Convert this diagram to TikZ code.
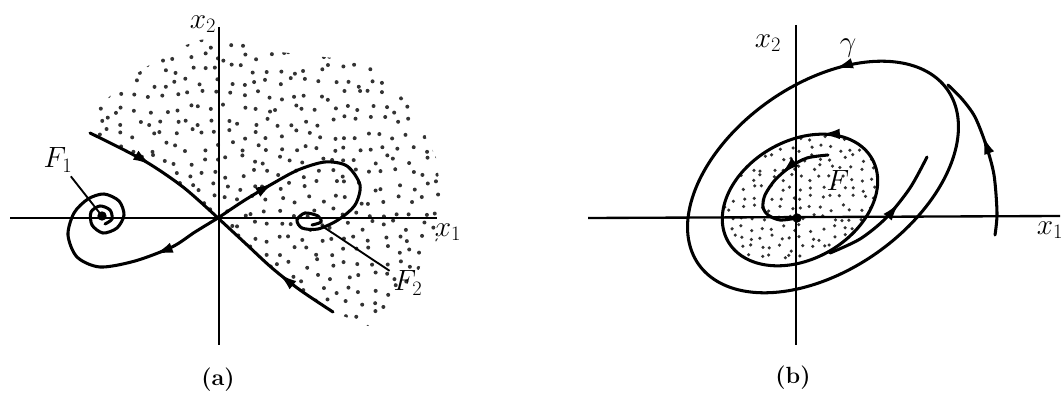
\RequirePackage{fix-cm}
\documentclass[tikz,border=0pt]{standalone}
\usepackage{amsmath,amssymb}
\usetikzlibrary{arrows.meta,decorations.markings}

\begin{document}
\begin{tikzpicture}[
    x=0.03cm, y=-0.03cm,
    axis/.style={line width=2pt, draw=black},
    traj/.style={line width=2.6pt, draw=black, line cap=round},
    pointer/.style={line width=1.6pt, draw=black},
    flow/.style={postaction={decorate, decoration={markings,
        mark=at position #1 with {\arrow{Latex[length=16pt,width=9pt]}}}}},
    speck/.style={fill=black!80},
    axlabel/.style={font=\fontsize{25}{28}\selectfont},
    ptlabel/.style={font=\fontsize{25}{28}\selectfont},
    caption/.style={font=\fontsize{20}{24}\selectfont\bfseries}
]
    \useasboundingbox (0,0) rectangle (1064,397);
    \pgfmathsetseed{17}

    % ---------- (a) ----------
    % stippled basin of F2, bounded by the stable separatrix
    \begin{scope}
        \clip plot[smooth] coordinates {(88,130) (143,160) (183,187) (218,218)}
            -- plot[smooth] coordinates {(218,218) (245,243) (272,268) (300,290) (333,312)}
            -- (368,326) -- (393,306) -- (420,268) -- (440,235) -- (442,200)
            -- (436,158) -- (412,105) -- (382,80) -- (365,57) -- (333,58)
            -- (280,52) -- (248,44) -- (230,35) -- (200,40) -- (172,50)
            -- (133,76) -- (110,96) -- (92,114) -- cycle;
        \foreach \gx in {85,98,...,445}{
            \foreach \gy in {30,43,...,330}{
                \pgfmathsetmacro\px{\gx+5*rand}
                \pgfmathsetmacro\py{\gy+5*rand}
                \fill[speck] (\px,\py) circle[radius=1.7pt];
            }
        }
    \end{scope}

    % axes
    \draw[axis] (10,218) -- (437,218);
    \draw[axis] (219,27) -- (219,345);
    \node[axlabel] (xa2) at (203,24) {$x_2$};
    \node[axlabel] (xa1) at (448,232) {$x_1$};

    % stable separatrix
    \draw[traj, flow=0.45] plot[smooth] coordinates {(90,133) (143,160) (183,187) (218,218)};
    \draw[traj, flow=0.45] plot[smooth] coordinates {(333,312) (300,290) (272,268) (245,243) (218,218)};

    % unstable branch to F2
    \draw[traj, flow=0.22] plot[smooth] coordinates {(218,218) (245,200) (272,184) (298,170)
        (325,162) (347,166) (360,185) (355,205) (338,220) (318,229) (302,228) (297,220)
        (305,213) (318,216) (321,222) (312,225)};

    % unstable branch to F1
    \draw[traj, flow=0.2] plot[smooth] coordinates {(218,218) (195,232) (172,247) (135,261)
        (100,267) (77,257) (68,235) (74,213) (88,199) (104,194) (119,201) (124,215)
        (117,228) (103,233) (92,225) (91,212) (100,206) (110,210) (112,219) (105,224)};

    % foci
    \coordinate (F1) at (102,216);
    \coordinate (F2) at (322,226);
    \fill (F1) circle[radius=4pt];
    \node[ptlabel] (labF1) at (58,160) {$F_1$};
    \node[ptlabel] (labF2) at (408,283) {$F_2$};
    \draw[pointer] (labF1) -- (F1);
    \draw[pointer] (F2) -- (labF2);

    \node[caption] (capa) at (218,380) {(a)};

    % ---------- (b) ----------
    % stippled region inside the inner cycle
    \begin{scope}
        \clip plot[domain=0:360, samples=100, variable=\t]
            ({800+71.9*cos(\t)-29.5*sin(\t)}, {200-41.5*cos(\t)-51.1*sin(\t)}) -- cycle;
        \foreach \gx in {712,722,...,890}{
            \foreach \gy in {128,138,...,275}{
                \pgfmathsetmacro\px{\gx+3.5*rand}
                \pgfmathsetmacro\py{\gy+3.5*rand}
                \fill[speck] (\px,\py) circle[radius=1.5pt];
            }
        }
    \end{scope}

    % axes
    \draw[axis] (588,218) -- (1060,216);
    \draw[axis] (796,25) -- (796,345);
    \node[axlabel] (xb2) at (768,43) {$x_2$};
    \node[axlabel] (xb1) at (1050,230) {$x_1$};

    % inner cycle
    \draw[traj, flow=0.5] plot[domain=-128:232, samples=150, variable=\t]
        ({800+71.9*cos(\t)-29.5*sin(\t)}, {200-41.5*cos(\t)-51.1*sin(\t)}) -- cycle;

    % outer cycle gamma
    \draw[traj, flow=0.5] plot[domain=-118:242, samples=180, variable=\t]
        ({823+124.5*cos(\t)-53.4*sin(\t)}, {177-87.2*cos(\t)-76.2*sin(\t)}) -- cycle;
    \node[ptlabel] (labgam) at (848,48) {$\gamma$};

    % spiral into F
    \coordinate (F) at (797,218);
    \draw[traj, flow=0.4] plot[smooth] coordinates {(828,155) (807,158) (790,167) (775,180)
        (765,195) (763,207) (768,215) (780,220) (797,218)};
    \fill (F) circle[radius=4pt];
    \node[ptlabel] (labF) at (838,180) {$F$};

    % trajectories approaching gamma
    \draw[traj, flow=0.62] plot[smooth] coordinates {(830,253) (860,239) (886,218) (910,188) (927,157)};
    \draw[traj, flow=0.62] plot[smooth] coordinates {(995,235) (997,213) (994,175) (986,145)
        (975,117) (962,99) (948,85)};

    \node[caption] (capb) at (793,378) {(b)};

\end{tikzpicture}
\end{document}
